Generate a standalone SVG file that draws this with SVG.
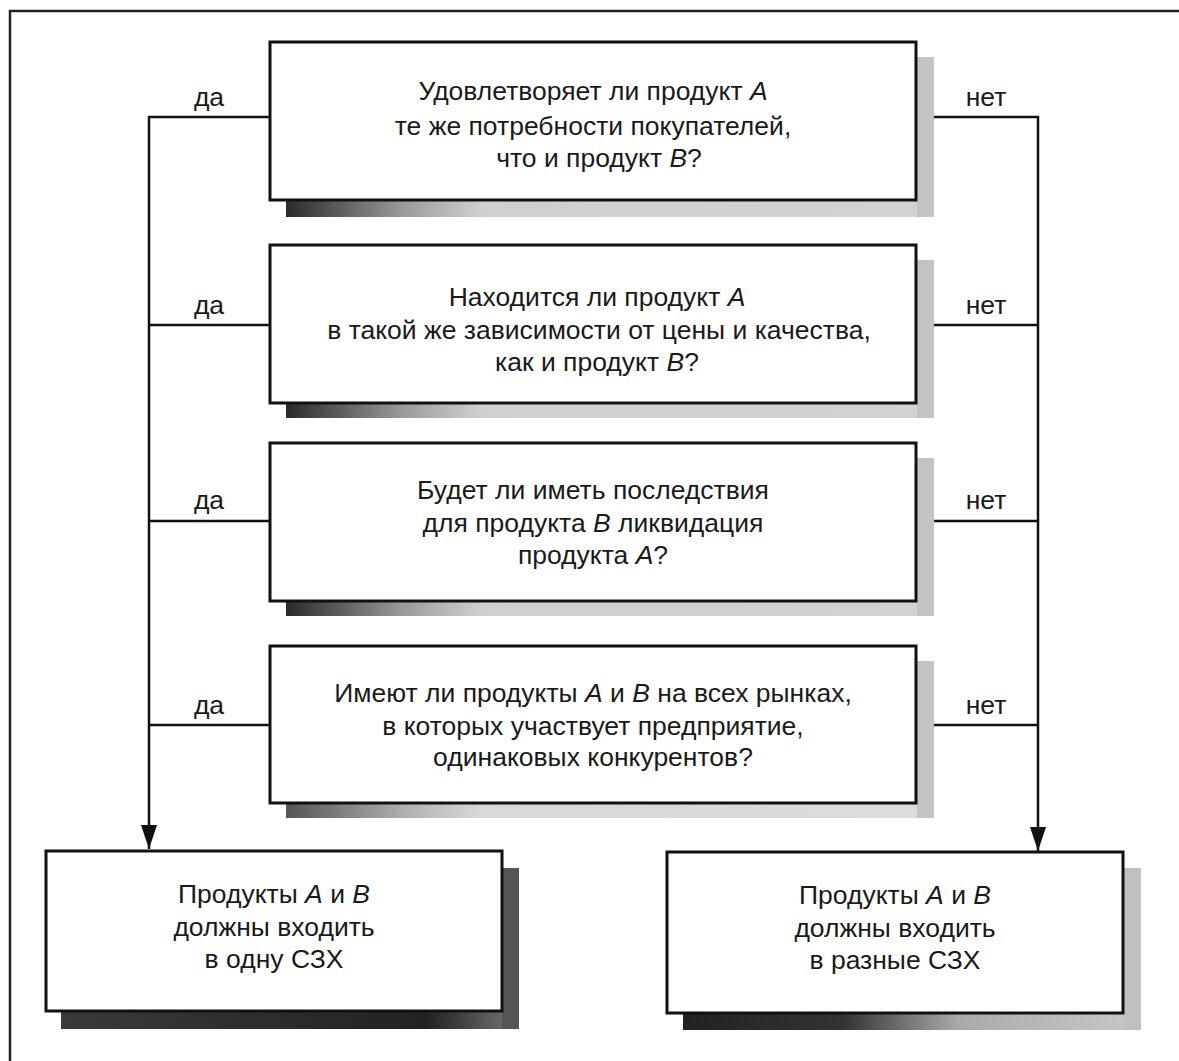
<svg xmlns="http://www.w3.org/2000/svg" width="1179" height="1061" viewBox="0 0 1179 1061">
<defs>
<style>
text{font-family:"Liberation Sans",Arial,sans-serif;font-size:26.5px;fill:#1a1a1a;text-anchor:middle}
.i{font-style:italic}
.box{fill:#fff;stroke:#111;stroke-width:3}
.ln{fill:none;stroke:#111;stroke-width:2.5}
.sr{fill:#c4c4c4}
.frame{fill:none;stroke:#222;stroke-width:2.5}
</style>
<linearGradient id="gq" x1="0" y1="0" x2="1" y2="0">
<stop offset="0" stop-color="#2a2a2a"/>
<stop offset="0.18" stop-color="#9a9a9a"/>
<stop offset="0.3" stop-color="#cfcfcf"/>
<stop offset="1" stop-color="#d2d2d2"/>
</linearGradient>
<linearGradient id="gl" x1="0" y1="0" x2="1" y2="0">
<stop offset="0" stop-color="#3a3a3a"/>
<stop offset="0.8" stop-color="#222"/>
<stop offset="1" stop-color="#777"/>
</linearGradient>
<linearGradient id="gr" x1="0" y1="0" x2="1" y2="0">
<stop offset="0" stop-color="#222"/>
<stop offset="0.35" stop-color="#333"/>
<stop offset="0.6" stop-color="#aaa"/>
<stop offset="1" stop-color="#c8c8c8"/>
</linearGradient>
<marker id="ah" viewBox="0 0 24 16" refX="24" refY="8" markerWidth="24" markerHeight="16" markerUnits="userSpaceOnUse" orient="auto">
<path d="M0,0 L24,8 L0,16 Z" fill="#111"/>
</marker>
</defs>
<rect width="1179" height="1061" fill="#fff"/>
<path class="frame" d="M10,1061 V11 H1179"/>

<g id="connectors">
<path class="ln" d="M270,117 H149 V849" marker-end="url(#ah)"/>
<path class="ln" d="M270,325 H149"/>
<path class="ln" d="M270,521 H149"/>
<path class="ln" d="M270,725 H149"/>
<path class="ln" d="M916,117 H1038 V851" marker-end="url(#ah)"/>
<path class="ln" d="M916,325 H1038"/>
<path class="ln" d="M916,521 H1038"/>
<path class="ln" d="M916,725 H1038"/>
<text x="209" y="106">да</text>
<text x="986" y="106">нет</text>
<text x="209" y="314">да</text>
<text x="986" y="314">нет</text>
<text x="209" y="509">да</text>
<text x="986" y="509">нет</text>
<text x="209" y="714">да</text>
<text x="986" y="714">нет</text>
</g>

<g id="q1">
<rect x="286" y="200" width="648" height="17" fill="url(#gq)"/>
<rect class="sr" x="917" y="57" width="17" height="160"/>
<rect class="box" x="270" y="42" width="646" height="158"/>
<text x="593" y="100">Удовлетворяет ли продукт <tspan class="i">А</tspan></text>
<text x="593" y="135">те же потребности покупателей,</text>
<text x="599" y="167">что  и продукт <tspan class="i">В</tspan>?</text>
</g>

<g id="q2">
<rect x="286" y="403" width="648" height="15" fill="url(#gq)"/>
<rect class="sr" x="917" y="260" width="17" height="158"/>
<rect class="box" x="270" y="245" width="646" height="158"/>
<text x="597" y="306">Находится ли продукт <tspan class="i">А</tspan></text>
<text x="599" y="339">в такой же зависимости от цены и качества,</text>
<text x="597" y="371">как и продукт <tspan class="i">В</tspan>?</text>
</g>

<g id="q3">
<rect x="286" y="601" width="648" height="15" fill="url(#gq)"/>
<rect class="sr" x="917" y="458" width="17" height="158"/>
<rect class="box" x="270" y="443" width="646" height="158"/>
<text x="593" y="499">Будет ли иметь последствия</text>
<text x="593" y="532">для продукта <tspan class="i">В</tspan> ликвидация</text>
<text x="593" y="564">продукта <tspan class="i">А</tspan>?</text>
</g>

<g id="q4">
<rect x="286" y="803" width="648" height="15" fill="url(#gq)" opacity="0.8"/>
<rect class="sr" x="917" y="661" width="17" height="157"/>
<rect class="box" x="270" y="646" width="646" height="157"/>
<text x="593" y="702">Имеют ли продукты <tspan class="i">А</tspan> и <tspan class="i">В</tspan> на всех рынках,</text>
<text x="593" y="735">в которых участвует предприятие,</text>
<text x="593" y="766">одинаковых конкурентов?</text>
</g>

<g id="r1">
<rect x="61" y="1011" width="458" height="18" fill="url(#gl)"/>
<rect x="502" y="868" width="17" height="161" fill="#555"/>
<rect class="box" x="46" y="851" width="456" height="160"/>
<text x="274" y="903">Продукты <tspan class="i">А</tspan> и <tspan class="i">В</tspan></text>
<text x="274" y="936">должны входить</text>
<text x="274" y="968">в одну СЗХ</text>
</g>

<g id="r2">
<rect x="683" y="1013" width="458" height="17" fill="url(#gr)"/>
<rect x="1124" y="868" width="17" height="162" fill="#c0c0c0"/>
<rect class="box" x="667" y="852" width="456" height="161"/>
<text x="895" y="904">Продукты <tspan class="i">А</tspan> и <tspan class="i">В</tspan></text>
<text x="895" y="937">должны входить</text>
<text x="895" y="969">в разные СЗХ</text>
</g>
</svg>
